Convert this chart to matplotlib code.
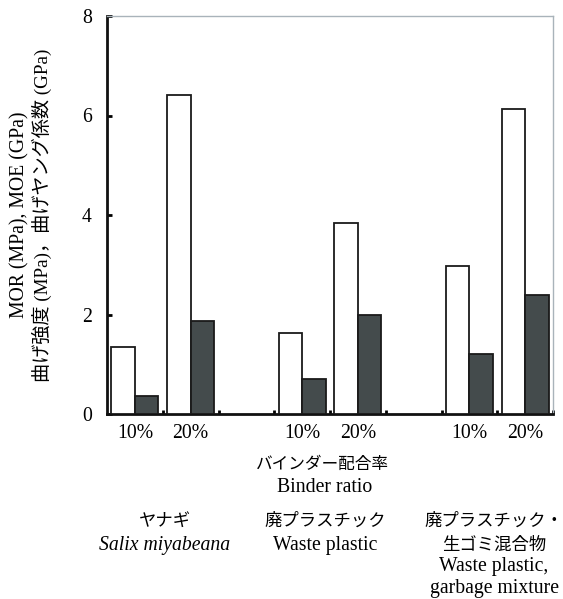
import matplotlib
matplotlib.use("Agg")
import matplotlib.pyplot as plt
import numpy as np

plt.rcParams['font.family'] = ['Liberation Serif', 'Noto Sans CJK JP', 'DejaVu Sans']
plt.rcParams['font.size'] = 14.2

# ---- data ----
slot_labels = ["10%", "20%", "", "10%", "20%", "", "10%", "20%"]
mor_values = [1.34, 6.42, None, 1.62, 3.84, None, 2.97, 6.14]   # white bars, MPa
moe_values = [0.37, 1.86, None, 0.70, 1.98, None, 1.20, 2.39]   # dark bars, GPa
y_ticks = [0, 2, 4, 6, 8]
ylabel_en = "MOR (MPa), MOE (GPa)"
ylabel_ja = "曲げ強度 (MPa)，曲げヤング係数 (GPa)"
xlabel_ja = "バインダー配合率"
xlabel_en = "Binder ratio"
# group labels: (text, style, is_cjk) lines per group
group_lines = [
    [("ヤナギ", 'normal', True), ("Salix miyabeana", 'italic', False)],
    [("廃プラスチック", 'normal', True), ("Waste plastic", 'normal', False)],
    [("廃プラスチック・", 'normal', True), ("生ゴミ混合物", 'normal', True),
     ("Waste plastic,", 'normal', False), ("garbage mixture", 'normal', False)],
]

W, H = 563, 599
fig = plt.figure(figsize=(W/100, H/100), dpi=100)
ax = fig.add_axes([107/W, (H-414)/H, (553-107)/W, (414-16)/H])

def px(xp, yp):
    return xp / W, (H - yp) / H

x = np.arange(len(slot_labels))
w = 0.42
for xi, m, e in zip(x, mor_values, moe_values):
    if m is None:
        continue
    ax.bar(xi - w/2, m, width=w, color='white', edgecolor='#1a1a1a', linewidth=1.3, zorder=3)
    ax.bar(xi + w/2, e, width=w, color='#444b4c', edgecolor='#1a1a1a', linewidth=1.3, zorder=3)

ax.set_xlim(-0.5, len(slot_labels) - 0.5)
ax.set_ylim(0, 8)
ax.set_yticks(y_ticks)
ax.set_yticklabels([str(t) for t in y_ticks])
ax.set_xticks(x)
ax.set_xticklabels(slot_labels)
ax.set_xticks(np.arange(0.5, len(slot_labels)), minor=True)

ax.tick_params(axis='y', direction='in', length=3.5, width=2, pad=11)
ax.tick_params(axis='x', which='major', length=0, pad=7)
ax.tick_params(axis='x', which='minor', direction='in', length=3, width=2)

for s in ['left', 'bottom']:
    ax.spines[s].set_linewidth(2)
    ax.spines[s].set_color('#111111')
for s in ['top', 'right']:
    ax.spines[s].set_linewidth(1)
    ax.spines[s].set_color('#a9b3ba')

cjk_size = 12.5
fig.text(*px(20, 215), ylabel_en, rotation=90, ha='center', va='center')
fig.text(*px(42, 215), ylabel_ja, rotation=90, ha='center', va='center', fontsize=13.8)

fig.text(*px(322, 465), xlabel_ja, ha='center', va='center', fontsize=12)
fig.text(*px(325, 488), xlabel_en, ha='center', va='center')

group_x = [165, 325, 494]
line_y = [522, 545.5, 567, 589]
for gx, lines in zip(group_x, group_lines):
    for (txt, style, cjk), yp in zip(lines, line_y):
        fig.text(*px(gx, yp), txt, ha='center', va='center', style=style,
                 fontsize=cjk_size if cjk else 14.2)

fig.savefig("out.png", dpi=100)
